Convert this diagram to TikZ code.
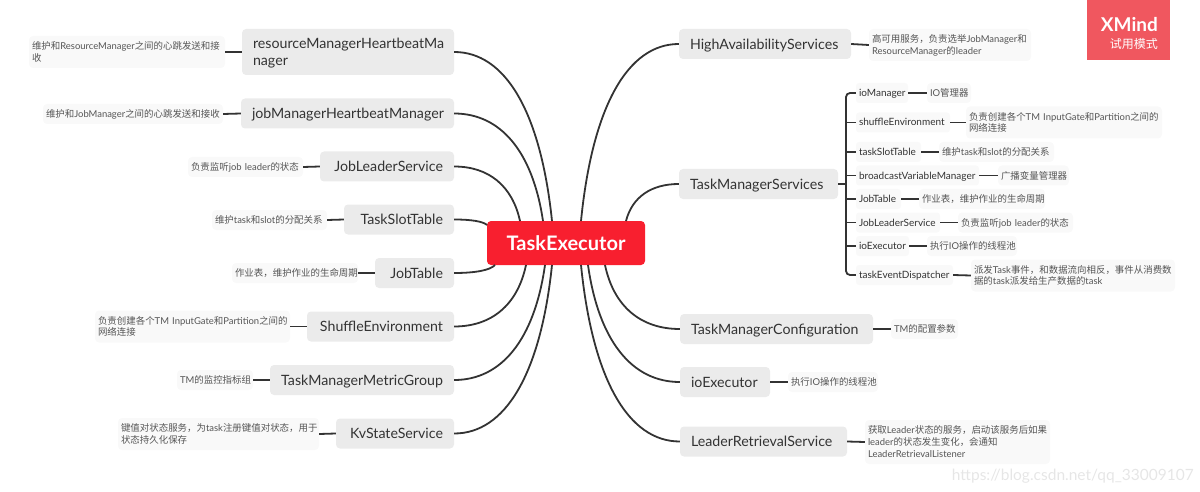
\documentclass[tikz,border=0pt]{standalone}
\usepackage{fontspec}
\usetikzlibrary{calc}
\setmainfont{Lato}
\newfontfamily\cjk{Noto Sans CJK SC}
\newcommand{\zh}[1]{{\cjk #1}}
\newcommand{\fc}{\char"FF0C\relax}
\definecolor{ink}{HTML}{333333}
\definecolor{notetext}{HTML}{555555}
\definecolor{boxgrey}{HTML}{EBEBEB}
\definecolor{notegrey}{HTML}{F9F9F9}
\definecolor{rootred}{HTML}{F81F2F}
\definecolor{markred}{HTML}{F0575F}
\definecolor{wmgrey}{HTML}{E6E6E6}
\tikzset{
  mainbox/.style={fill=boxgrey,rounded corners=4,inner xsep=11,inner ysep=0,align=left,text=ink,text height=13pt,text depth=2.4pt,font=\fontsize{14.2}{16.7}\selectfont},
  notebox/.style={fill=notegrey,rounded corners=4,inner xsep=3,inner ysep=0,align=left,text=notetext,text height=8.5pt,font=\fontsize{9.45}{11.8}\selectfont},
  childbox/.style={fill=notegrey,rounded corners=3,inner xsep=3,inner ysep=0,align=left,text=ink,text height=8.5pt,text depth=1.5pt,font=\fontsize{10}{12}\selectfont,minimum height=20},
  rootbox/.style={fill=rootred,rounded corners=4,inner sep=0,text=white,font=\fontsize{20}{24}\bfseries\selectfont},
  branch/.style={draw=ink,line width=1.8},
  link/.style={draw=ink,line width=1.8}
}
% box: name, left, right, y, height, text
\newcommand{\mainb}[6]{\node[mainbox,text width=#3-#2-22,minimum height=#5] (#1) at ({(#2+#3)/2},#4) {#6};}
\newcommand{\mainr}[6]{\node[mainbox,align=right,text width=#3-#2-22,minimum height=#5] (#1) at ({(#2+#3)/2},#4) {#6};}
% note: name, left, right, y, number of lines, text
\newcommand{\noteb}[6]{\pgfmathsetmacro{\nd}{1.5+11.8*(#5-1)}\pgfmathsetmacro{\nh}{8+12*#5}%
  \node[notebox,text width=#3-#2-6,minimum height=\nh,text depth=\nd pt] (#1) at ({(#2+#3)/2},#4) {#6};}
\newcommand{\childb}[5]{\node[childbox,text width=#3-#2-6] (#1) at ({(#2+#3)/2},#4) {#5};}
% curve: box anchor, point on the root
\newcommand{\bcurve}[2]{\draw[branch] (#1) .. controls ($(#1)!.52!(#1 -| #2)$) and ($(#2)!.65!($(#2 |- #1)!.18!(#1)$)$) .. (#2);}
\begin{document}
\begin{tikzpicture}[x=1pt,y=-1pt]
\useasboundingbox (0,0) rectangle (1200,492);
% root
\node[rootbox,minimum width=158,minimum height=44] (root) at (566,243) {TaskExecutor};
% points where the branches meet the root
\foreach \n/\px/\py in {tA/552/221,tB/543/221,tC/520/221,tD/487/225,bE/495/265,bF/526/265,bG/545/265,bH/552/265,
  tI/581/221,tJ/626/221,bK/605/265,bL/588/265,bM/581/265}
  \coordinate (\n) at (\px,\py);
% left main
\node[mainbox,text width=190,minimum height=46,text height=12pt,text depth=18pt] (rm) at (348,52) {resourceManagerHeartbeatMa\\nager};
\mainr{jm}{241}{454}{113.5}{30}{jobManagerHeartbeatManager}
\mainr{jl}{320}{454}{166.5}{30}{JobLeaderService}
\mainr{ts}{344}{454}{219.5}{30}{TaskSlotTable}
\mainr{jt}{375}{454}{273}{30}{JobTable}
\mainr{se}{307}{454}{326.5}{30}{ShuffleEnvironment}
\mainr{mg}{270}{454}{380}{30}{TaskManagerMetricGroup}
\mainr{kv}{336}{454}{433.5}{30}{KvStateService}
% left notes
\noteb{n1}{29}{225}{52}{2}{\mbox{\zh{维护和}ResourceManager\zh{之间的心跳发送和接}}\\\zh{收}}
\noteb{n2}{43}{223}{114}{1}{\mbox{\zh{维护和}JobManager\zh{之间的心跳发送和接收}}}
\noteb{n3}{188}{303}{167}{1}{\mbox{\zh{负责监听}job leader\zh{的状态}}}
\noteb{n4}{212}{327}{220}{1}{\mbox{\zh{维护}task\zh{和}slot\zh{的分配关系}}}
\noteb{n5}{232}{358}{273}{1}{\mbox{\zh{作业表\fc{}维护作业的生命周期}}}
\noteb{n6}{95}{290}{326.5}{2}{\mbox{\zh{负责创建各个}TM InputGate\zh{和}Partition\zh{之间的}}\\\zh{网络连接}}
\noteb{n7}{177}{253}{380}{1}{\mbox{TM\zh{的监控指标组}}}
\noteb{n8}{118}{319}{434}{2}{\mbox{\zh{键值对状态服务\fc{}为}task\zh{注册键值对状态\fc{}用于}}\\\zh{状态持久化保存}}
% right main
\mainb{ha}{679}{851}{44}{30}{HighAvailabilityServices}
\mainb{tms}{679}{838}{184}{30}{TaskManagerServices}
\mainb{tc}{680}{873}{329}{30}{TaskManagerConfiguration}
\mainb{io}{680}{770}{382}{30}{ioExecutor}
\mainb{lr}{680}{847}{441.5}{30}{LeaderRetrievalService}
% right notes
\noteb{nh}{869}{1031}{45}{2}{\mbox{\zh{高可用服务\fc{}负责选举}JobManager\zh{和}}\\\mbox{ResourceManager\zh{的}leader}}
\noteb{nc}{891}{958}{329}{1}{\mbox{TM\zh{的配置参数}}}
\noteb{ni}{788}{878}{382}{1}{\mbox{\zh{执行}IO\zh{操作的线程池}}}
\noteb{nl}{865}{1050}{442}{3}{\mbox{\zh{获取}Leader\zh{状态的服务\fc{}启动该服务后如果}}\\\mbox{leader\zh{的状态发生变化\fc{}会通知}}\\LeaderRetrievalListener}
% children
\childb{c1}{856}{908}{93}{ioManager}
\childb{c2}{856}{950}{122.5}{shuffleEnvironment}
\childb{c3}{856}{921}{152}{taskSlotTable}
\childb{c4}{856}{979}{175.5}{broadcastVariableManager}
\childb{c5}{856}{901}{199}{JobTable}
\childb{c6}{856}{940}{222.5}{JobLeaderService}
\childb{c7}{856}{909}{246}{ioExecutor}
\childb{c8}{856}{953}{275}{taskEventDispatcher}
\noteb{d1}{927}{971}{93}{1}{\mbox{IO\zh{管理器}}}
\noteb{d2}{966}{1162}{122.5}{2}{\mbox{\zh{负责创建各个}TM InputGate\zh{和}Partition\zh{之间的}}\\\zh{网络连接}}
\noteb{d3}{939}{1054}{152}{1}{\mbox{\zh{维护}task\zh{和}slot\zh{的分配关系}}}
\noteb{d4}{998}{1069}{175.5}{1}{\mbox{\zh{广播变量管理器}}}
\noteb{d5}{919}{1045}{199}{1}{\mbox{\zh{作业表\fc{}维护作业的生命周期}}}
\noteb{d6}{958}{1073}{222.5}{1}{\mbox{\zh{负责监听}job leader\zh{的状态}}}
\noteb{d7}{927}{1017}{246}{1}{\mbox{\zh{执行}IO\zh{操作的线程池}}}
\noteb{d8}{971}{1175}{275.5}{2}{\mbox{\zh{派发}Task\zh{事件\fc{}和数据流向相反\fc{}事件从消费数}}\\\mbox{\zh{据的}task\zh{派发给生产数据的}task}}
% curves
\bcurve{rm.east}{tA}
\bcurve{jm.east}{tB}
\bcurve{jl.east}{tC}
\bcurve{ts.east}{tD}
\bcurve{jt.east}{bE}
\bcurve{se.east}{bF}
\bcurve{mg.east}{bG}
\bcurve{kv.east}{bH}
\bcurve{ha.west}{tI}
\bcurve{tms.west}{tJ}
\bcurve{tc.west}{bK}
\bcurve{io.west}{bL}
\bcurve{lr.west}{bM}
% note links
\foreach \a/\b in {n1/rm,n2/jm,n3/jl,n4/ts,n5/jt,n6/se,n7/mg,n8/kv}
  \draw[link] (\a.east) -- (\b.west);
\foreach \a/\b in {ha/nh,tc/nc,io/ni,lr/nl,c1/d1,c2/d2,c3/d3,c4/d4,c5/d5,c6/d6,c7/d7,c8/d8}
  \draw[link] (\a.east) -- (\b.west);
% trunk
\coordinate (trunk) at (846,184);
\draw[branch] (tms.east) -- (trunk);
\draw[branch,rounded corners=4] (c1.west) -- (c1.west -| trunk) -- (c8.west -| trunk) -- (c8.west);
\foreach \c in {c2,c3,c4,c5,c6,c7}
  \draw[branch] (\c.west) -- (\c.west -| trunk);
% trial mark
\node[fill=markred,minimum width=83,minimum height=60,inner sep=0] (xm) at (1128.5,30) {};
\node[anchor=east,inner sep=0,text=white,font=\fontsize{19}{22}\bfseries\selectfont] (xt) at (1158,25) {XMind};
\node[anchor=east,inner sep=0,text=white,font=\fontsize{12}{14}\selectfont] (xs) at (1158,44) {\zh{试用模式}};
% watermark
\node[anchor=east,inner sep=0,text=wmgrey,font=\fontsize{15.5}{18}\selectfont] (wm) at (1194,476) {https://blog.csdn.net/qq\_33009107};
\end{tikzpicture}
\end{document}
